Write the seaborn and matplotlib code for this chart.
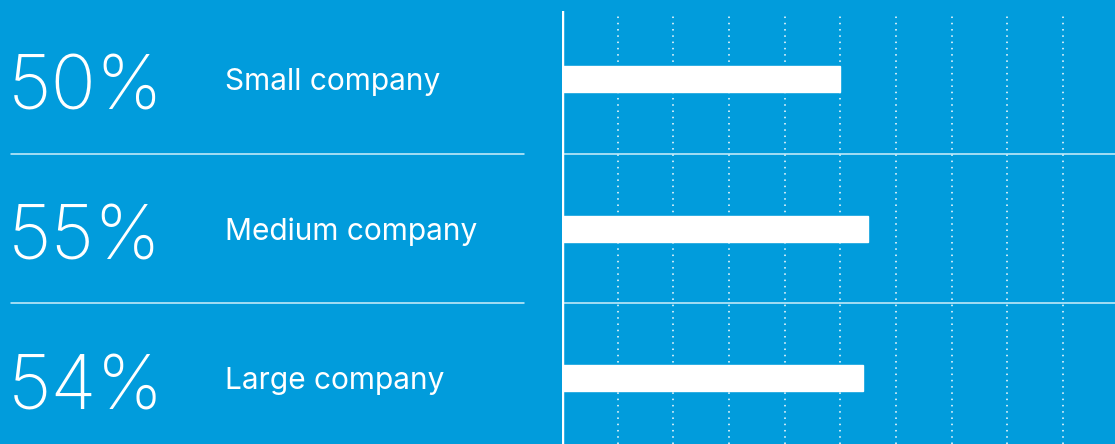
import matplotlib
matplotlib.use("Agg")
import matplotlib.pyplot as plt
import matplotlib.transforms as mtransforms
import seaborn as sns
import pandas as pd

# Share of respondents by company size
categories = ["Small company", "Medium company", "Large company"]
values = [50, 55, 54]
value_labels = ["50%", "55%", "54%"]

BG = "#019CDC"
W, H, DPI = 1115, 444, 100

sns.set_theme(style="white")
plt.rcParams["font.family"] = ["Inter", "DejaVu Sans"]

fig = plt.figure(figsize=(W / DPI, H / DPI), dpi=DPI)
fig.patch.set_facecolor(BG)

# bar panel: zero line at x=562 px, 5.567 px per percentage point
x0 = 562 / W
ax = fig.add_axes([x0, 0, 1 - x0, (H - 11) / H])
ax.set_facecolor("none")

df = pd.DataFrame({"category": categories, "value": values})
sns.barplot(data=df, x="value", y="category", orient="h", color="white",
            width=0.174, saturation=1, ax=ax, zorder=3)

ax.set_xlim(0, (W - 562) / 5.567)
ax.set_ylim(2.441, -0.455)

# dotted vertical gridlines every 10%
for g in range(10, 100, 10):
    ax.axvline(g, ymin=0, ymax=1 - 2 / (H - 11), color="white", lw=1.1,
               linestyle=(0, (1, 3.1)), zorder=1)

# axis line
ax.axvline(0, color="white", lw=3.2, zorder=4)

for s in ax.spines.values():
    s.set_visible(False)
ax.set_xticks([])
ax.set_yticks([])
ax.set_xlabel("")
ax.set_ylabel("")

# row separators
trans = mtransforms.blended_transform_factory(fig.transFigure, ax.transData)
sep_color = "#CFEFFB"
for yv in (0.5, 1.5):
    ax.plot([11 / W, 524 / W], [yv, yv], transform=trans, color=sep_color,
            lw=1.1, clip_on=False, zorder=2)
    ax.plot([563 / W, 1.0], [yv, yv], transform=trans, color=sep_color,
            lw=1.1, clip_on=False, zorder=2)

# row text: large percentage and category name
for i, (lab, cat) in enumerate(zip(value_labels, categories)):
    ax.text(8 / W, i + 0.207, lab, transform=trans, color="white",
            fontsize=54, fontweight="light", va="baseline", ha="left",
            clip_on=False)
    ax.text(225 / W, i + 0.074, cat, transform=trans, color="white",
            fontsize=21.5, fontweight="normal", va="baseline", ha="left",
            clip_on=False)

fig.savefig("out.png", dpi=DPI, facecolor=BG)
